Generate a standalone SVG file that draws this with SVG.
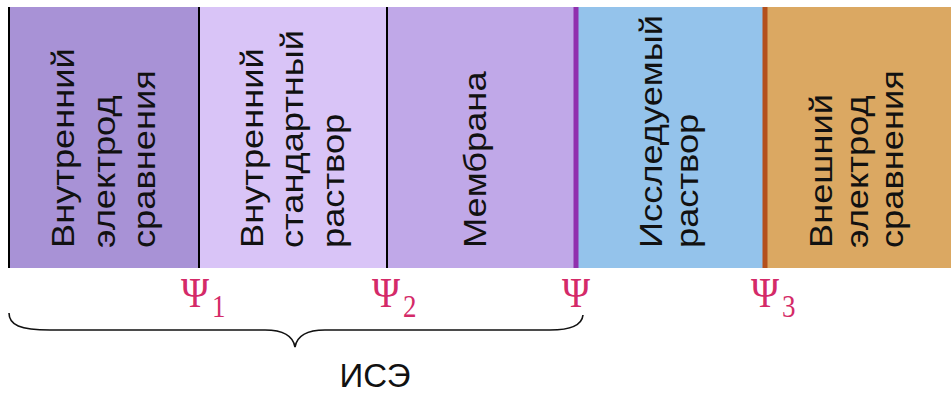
<svg xmlns="http://www.w3.org/2000/svg" width="951" height="394" viewBox="0 0 951 394">
<style>
.lbl{font-family:"Liberation Sans",Arial,sans-serif;font-size:31px;fill:#111}
.psi{font-family:"Liberation Serif","Times New Roman",serif;font-size:38px;fill:#D42A68}
.sub{font-family:"Liberation Serif","Times New Roman",serif;font-size:27px;fill:#D42A68}
.div{stroke:#000;stroke-width:2}
</style>
<rect width="951" height="394" fill="#fff"/>
<g id="n1">
<rect x="9" y="7" width="190" height="261" fill="#A892D6"/>
<g transform="translate(74,248) rotate(-90) scale(1.17,1)"><text class="lbl">Внутренний</text></g>
<g transform="translate(114.5,248) rotate(-90) scale(1.17,1)"><text class="lbl">электрод</text></g>
<g transform="translate(155,248) rotate(-90) scale(1.17,1)"><text class="lbl">сравнения</text></g>
</g>
<g id="n2">
<rect x="199" y="7" width="188" height="261" fill="#D9C4F7"/>
<g transform="translate(263,248) rotate(-90) scale(1.17,1)"><text class="lbl">Внутренний</text></g>
<g transform="translate(303,248) rotate(-90) scale(1.17,1)"><text class="lbl">стандартный</text></g>
<g transform="translate(344,248) rotate(-90) scale(1.17,1)"><text class="lbl">раствор</text></g>
</g>
<g id="n3">
<rect x="387" y="7" width="189" height="261" fill="#C0A8E8"/>
<g transform="translate(486,248) rotate(-90) scale(1.17,1)"><text class="lbl">Мембрана</text></g>
</g>
<g id="n4">
<rect x="576" y="7" width="189" height="261" fill="#94C3EB"/>
<g transform="translate(662,248) rotate(-90) scale(1.17,1)"><text class="lbl">Исследуемый</text></g>
<g transform="translate(698,248) rotate(-90) scale(1.17,1)"><text class="lbl">раствор</text></g>
</g>
<g id="n5">
<rect x="765" y="7" width="186" height="261" fill="#DBA862"/>
<g transform="translate(832,248) rotate(-90) scale(1.17,1)"><text class="lbl">Внешний</text></g>
<g transform="translate(868,248) rotate(-90) scale(1.17,1)"><text class="lbl">электрод</text></g>
<g transform="translate(903,248) rotate(-90) scale(1.17,1)"><text class="lbl">сравнения</text></g>
</g>
<g id="boundaries">
<line class="div" x1="9" y1="7" x2="9" y2="268"/>
<line class="div" x1="199" y1="7" x2="199" y2="268"/>
<line class="div" x1="387" y1="7" x2="387" y2="268"/>
<line x1="576" y1="7" x2="576" y2="268" stroke="#9030AE" stroke-width="5"/>
<line x1="765" y1="7" x2="765" y2="268" stroke="#B4501C" stroke-width="5"/>
</g>
<g id="potentials">
<g transform="translate(181,307) scale(1,1.12)"><text class="psi">Ψ</text></g>
<g transform="translate(212,317) scale(1,1.15)"><text class="sub">1</text></g>
<g transform="translate(372,307) scale(1,1.12)"><text class="psi">Ψ</text></g>
<g transform="translate(403,317) scale(1,1.15)"><text class="sub">2</text></g>
<g transform="translate(562,307) scale(1,1.12)"><text class="psi">Ψ</text></g>
<g transform="translate(751,307) scale(1,1.12)"><text class="psi">Ψ</text></g>
<g transform="translate(782,317) scale(1,1.15)"><text class="sub">3</text></g>
</g>
<g id="connectors">
<path d="M9,313 C9,325 20,330 50,330 L265,330 C284,330 293,336 295,347 C297,336 306,330 325,330 L550,330 C570,330 582,325 583,315" fill="none" stroke="#111" stroke-width="1.6"/>
</g>
<g id="ise">
<text x="375" y="387" text-anchor="middle" font-family="Liberation Sans,Arial,sans-serif" font-size="33" fill="#111">ИСЭ</text>
</g>
</svg>
